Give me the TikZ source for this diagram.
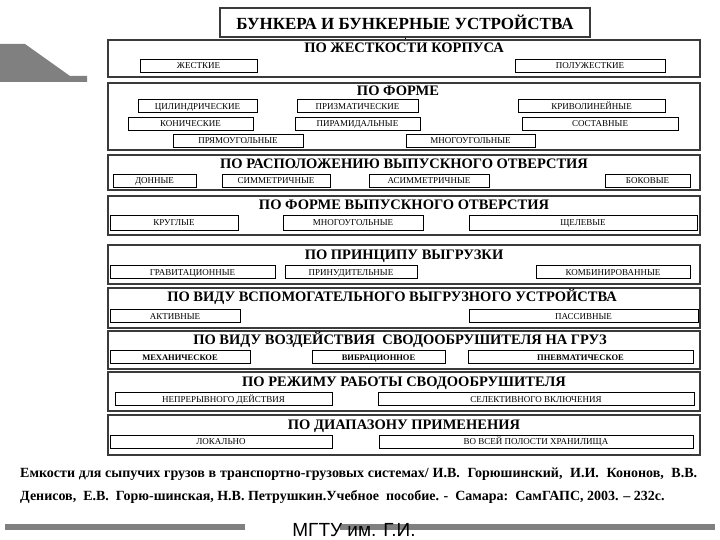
\documentclass[tikz,border=0pt]{standalone}
\usepackage{fontspec}
\setmainfont{Liberation Serif}
\setsansfont{Liberation Sans}
\usetikzlibrary{positioning}
\definecolor{framegray}{HTML}{3A3A3A}
\definecolor{bargray}{HTML}{808080}

\begin{document}
\begin{tikzpicture}[x=1pt, y=-1pt,
  every node/.style={align=center, inner sep=0pt},
  grp/.style={draw=framegray, line width=1.3pt, minimum width=592pt},
  grptitle/.style={font=\bfseries\fontsize{14.5}{14.5}\selectfont, text height=10pt, text depth=0pt},
  item/.style={draw, line width=0.7pt, minimum height=13pt, font=\fontsize{9}{9}\selectfont, text height=6.5pt, text depth=0pt}]
  \useasboundingbox (0,0) rectangle (720,540);

  % corner mark
  \fill[bargray] (0,44) -- (25,44) -- (70,76) -- (87,76) -- (87,82) -- (0,82) -- cycle;

  \node[draw=framegray, line width=1.3pt, minimum width=370pt, minimum height=29pt,
        font=\bfseries\fontsize{17}{17}\selectfont] (bunker) at (405,22.5) {БУНКЕРА И БУНКЕРНЫЕ УСТРОЙСТВА};

  % groups
  \node[grp, minimum height=37pt] (g1) at (404,58.5) {};
  \node[grp, minimum height=67pt] (g2) at (404,116.5) {};
  \node[grp, minimum height=35pt] (g3) at (404,172.5) {};
  \node[grp, minimum height=39pt] (g4) at (404,215.5) {};
  \node[grp, minimum height=39pt] (g5) at (404,264.5) {};
  \node[grp, minimum height=40pt] (g6) at (404,308) {};
  \node[grp, minimum height=38pt] (g7) at (404,350) {};
  \node[grp, minimum height=39pt] (g8) at (404,391.5) {};
  \node[grp, minimum height=40pt] (g9) at (404,435) {};

  \node[grptitle, below=3pt of g1.north] (t1) {ПО ЖЕСТКОСТИ КОРПУСА};
  \node[grptitle, below=3pt of g2.north, xshift=-6pt] (t2) {ПО ФОРМЕ};
  \node[grptitle, below=4pt of g3.north] (t3) {ПО РАСПОЛОЖЕНИЮ ВЫПУСКНОГО ОТВЕРСТИЯ};
  \node[grptitle, below=4pt of g4.north] (t4) {ПО ФОРМЕ ВЫПУСКНОГО ОТВЕРСТИЯ};
  \node[grptitle, below=5pt of g5.north] (t5) {ПО ПРИНЦИПУ ВЫГРУЗКИ};
  \node[grptitle, below=4pt of g6.north, xshift=-12pt] (t6) {ПО ВИДУ ВСПОМОГАТЕЛЬНОГО ВЫГРУЗНОГО УСТРОЙСТВА};
  \node[grptitle, below=4pt of g7.north, xshift=-4pt] (t7) {ПО ВИДУ ВОЗДЕЙСТВИЯ\ \ СВОДООБРУШИТЕЛЯ НА ГРУЗ};
  \node[grptitle, below=5pt of g8.north] (t8) {ПО РЕЖИМУ РАБОТЫ СВОДООБРУШИТЕЛЯ};
  \node[grptitle, below=5pt of g9.north] (t9) {ПО ДИАПАЗОНУ ПРИМЕНЕНИЯ};

  \draw[line width=0.5pt] (bunker.south) -- (bunker.south |- g1.north);

  % po zhestkosti
  \node[item, minimum width=117pt] (zh) at (198.5,65.5) {ЖЕСТКИЕ};
  \node[item, minimum width=150pt] (pzh) at (590,65.5) {ПОЛУЖЕСТКИЕ};

  % po forme
  \node[item, minimum width=119pt] (cil) at (197.5,106) {ЦИЛИНДРИЧЕСКИЕ};
  \node[item, minimum width=121pt] (priz) at (357.5,106) {ПРИЗМАТИЧЕСКИЕ};
  \node[item, minimum width=147pt] (kriv) at (591.5,106) {КРИВОЛИНЕЙНЫЕ};
  \node[item, minimum width=125pt] (kon) at (190.5,123.5) {КОНИЧЕСКИЕ};
  \node[item, minimum width=125pt] (pir) at (357.5,123.5) {ПИРАМИДАЛЬНЫЕ};
  \node[item, minimum width=156pt] (sost) at (600,123.5) {СОСТАВНЫЕ};
  \node[item, minimum width=130pt] (pryam) at (238,140.5) {ПРЯМОУГОЛЬНЫЕ};
  \node[item, minimum width=129pt] (mnog) at (470.5,140.5) {МНОГОУГОЛЬНЫЕ};

  % po raspolozheniyu
  \node[item, minimum width=83pt] (don) at (154.5,180.5) {ДОННЫЕ};
  \node[item, minimum width=108pt] (simm) at (276,180.5) {СИММЕТРИЧНЫЕ};
  \node[item, minimum width=120pt] (asimm) at (429,180.5) {АСИММЕТРИЧНЫЕ};
  \node[item, minimum width=85pt] (bok) at (647.5,180.5) {БОКОВЫЕ};

  % po forme otverstiya
  \node[item, minimum width=128pt, minimum height=15pt] (krug) at (174,222.5) {КРУГЛЫЕ};
  \node[item, minimum width=140pt, minimum height=15pt] (mnogo) at (353,222.5) {МНОГОУГОЛЬНЫЕ};
  \node[item, minimum width=228pt, minimum height=15pt] (shchel) at (583,222.5) {ЩЕЛЕВЫЕ};

  % po principu
  \node[item, minimum width=165pt] (grav) at (192.5,272) {ГРАВИТАЦИОННЫЕ};
  \node[item, minimum width=132pt] (prin) at (351,272) {ПРИНУДИТЕЛЬНЫЕ};
  \node[item, minimum width=154pt] (komb) at (613,272) {КОМБИНИРОВАННЫЕ};

  % po vidu ustroystva
  \node[item, minimum width=130pt] (akt) at (175,316) {АКТИВНЫЕ};
  \node[item, minimum width=229pt] (pass) at (583.5,316) {ПАССИВНЫЕ};

  % po vidu vozdeystviya
  \node[item, minimum width=140pt, font=\bfseries\fontsize{8.5}{8.5}\selectfont] (meh) at (180,357) {МЕХАНИЧЕСКОЕ};
  \node[item, minimum width=133pt, font=\bfseries\fontsize{8.5}{8.5}\selectfont] (vibr) at (378.5,357) {ВИБРАЦИОННОЕ};
  \node[item, minimum width=225pt, font=\bfseries\fontsize{8.5}{8.5}\selectfont] (pnevm) at (580.5,357) {ПНЕВМАТИЧЕСКОЕ};

  % po rezhimu
  \node[item, minimum width=217pt] (nepr) at (223.5,399) {НЕПРЕРЫВНОГО ДЕЙСТВИЯ};
  \node[item, minimum width=316pt] (sel) at (536,399) {СЕЛЕКТИВНОГО ВКЛЮЧЕНИЯ};

  % po diapazonu
  \node[item, minimum width=222pt] (lok) at (221,441.5) {ЛОКАЛЬНО};
  \node[item, minimum width=314pt] (vsey) at (536,441.5) {ВО ВСЕЙ ПОЛОСТИ ХРАНИЛИЩА};

  % source
  \node[text width=677pt, align=justify, font=\bfseries\fontsize{14}{23}\selectfont, anchor=north west] (src) at (20,468)
    {Емкости для сыпучих грузов в транспортно-грузовых системах/ И.В.\ \ Горюшинский,\ \ И.И.\ \ Кононов,\ \ В.В.\linebreak
     Денисов,\ \ Е.В.\ \ Горю-шинская, Н.В. Петрушкин.Учебное\ \ пособие. -\ \ Самара:\ \ СамГАПС, 2003. – 232с.};

  \fill[bargray] (5,524) rectangle (245,530);
  \fill[bargray] (340,524) rectangle (715,530);
  \node[font=\sffamily\fontsize{19}{19}\selectfont, anchor=base] (mgtu) at (354,536) {МГТУ им. Г.И.};
\end{tikzpicture}
\end{document}
